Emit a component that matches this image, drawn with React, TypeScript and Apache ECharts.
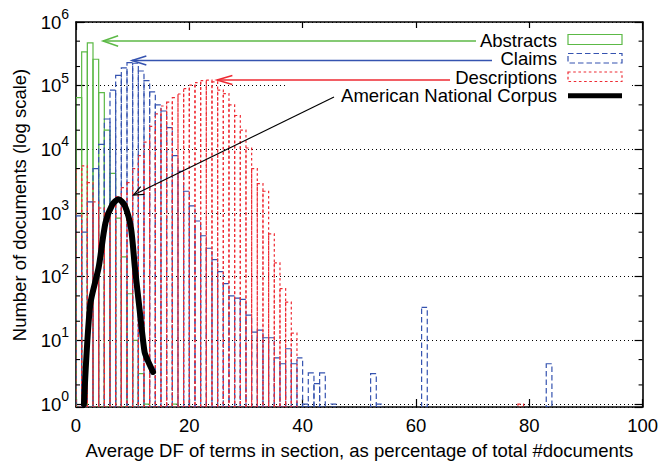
import React, { useEffect, useRef } from 'react';
import * as echarts from 'echarts';

const FONT = '"Liberation Sans", Arial, Helvetica, sans-serif';

// ---- data ----
const X_MIN = 0;
const X_MAX = 100;
const X_INTERVAL = 20;
const Y_MIN = 0.9;
const Y_MAX = 1e6;
const BIN_WIDTH = 1;

// counts per bin, index = bin start (percentage)
const abstractsCounts = [65000, 340000, 470000, 260000, 78000, 20000, 4200, 830, 205, 54, 10, 3, 1, 0, 0, 0, 0, 1];

const claimsCounts = [
  900, 500, 1500, 5000, 12000, 30000, 85000, 145000, 190000, 230000,
  225000, 170000, 120000, 80000, 50000, 40000, 22000, 8000, 4500, 2200,
  1300, 750, 440, 280, 185, 120, 78, 50, 46, 44,
  25, 13.5, 14.5, 11, 11, 5.3, 4.3, 7.4, 4.3, 5.3,
  1, 3.1, 2.1, 3.1, 0, 1,
];
const claimsOutlierBins = [52, 53, 61, 83];
const claimsOutlierCounts = [3, 1, 33, 4.3];

const descriptionsCounts = [
  5000, 5500, 3000, 1500, 1200, 1000, 1300, 1800, 2500, 3000,
  5000, 8000, 13000, 23000, 36000, 48000, 55000, 65000, 74000, 90000,
  102000, 112000, 120000, 122000, 115000, 85000, 75000, 50000, 34000, 20000,
  10500, 5000, 2900, 2200, 470, 165, 65, 40, 13,
];
const descriptionsOutlierBins = [78];
const descriptionsOutlierCounts = [1];

const ancX = [1.4, 2.5, 4.0, 5.2, 6.4, 7.5, 8.6, 9.7, 10.4, 11.25, 12.1, 12.6, 13.6];
const ancY = [1, 36, 140, 700, 1350, 1650, 1320, 580, 138, 29, 6.6, 5, 3.2];

const minorTickValues = [2, 5, 20, 50, 200, 500, 2000, 5000, 20000, 50000, 200000, 500000];

const seriesNames = ['Abstracts', 'Claims', 'Descriptions', 'American National Corpus'];

// ---- styles ----
const GREEN = '#5cb946';
const BLUE = '#3553b0';
const RED = '#ee2a32';
const BLACK = '#000';
const DASH_CLAIMS = [5.5, 3];
const DASH_DESC = [2.6, 2.6];

function binsToData(counts: number[], extraBins: number[] = [], extraCounts: number[] = []) {
  const out: number[][] = [];
  counts.forEach((c, i) => {
    if (c > 0) out.push([i, c]);
  });
  extraBins.forEach((b, i) => out.push([b, extraCounts[i]]));
  return out;
}

function histSeries(name: string, data: number[][], color: string, dash: number[] | null, z: number) {
  return {
    type: 'custom',
    name,
    data,
    clip: true,
    silent: true,
    z,
    encode: { x: 0, y: 1 },
    renderItem: (_p: any, api: any) => {
      const k = api.value(0);
      const v = api.value(1);
      const top = api.coord([k, v]);
      const bot = api.coord([k + BIN_WIDTH, Y_MIN]);
      return {
        type: 'rect',
        shape: { x: top[0], y: top[1], width: bot[0] - top[0], height: bot[1] - top[1] },
        style: { fill: 'none', stroke: color, lineWidth: 1.2, lineDash: dash || undefined },
      };
    },
  };
}

function arrow(x1: number, y1: number, x2: number, y2: number, color: string, lw: number, headLen: number, halfAngle: number) {
  const ang = Math.atan2(y1 - y2, x1 - x2);
  const a1 = ang + halfAngle;
  const a2 = ang - halfAngle;
  return [
    { type: 'line', z: 100, shape: { x1, y1, x2, y2 }, style: { stroke: color, lineWidth: lw } },
    {
      type: 'polyline',
      z: 100,
      shape: {
        points: [
          [x2 + headLen * Math.cos(a1), y2 + headLen * Math.sin(a1)],
          [x2, y2],
          [x2 + headLen * Math.cos(a2), y2 + headLen * Math.sin(a2)],
        ],
      },
      style: { stroke: color, lineWidth: lw, fill: 'none' },
    },
  ];
}

function legendText(text: string, y: number) {
  return {
    type: 'text',
    z: 100,
    style: {
      text,
      x: 557,
      y,
      align: 'right',
      textAlign: 'right',
      verticalAlign: 'middle',
      textVerticalAlign: 'middle',
      font: `18.5px ${FONT}`,
      lineHeight: 16,
      fill: BLACK,
    },
  };
}

const axisLineStyle = { color: BLACK, width: 1.6 };

function supLabel(v: number) {
  const e = Math.round(Math.log10(v));
  if (Math.abs(Math.pow(10, e) - v) > 1e-6 * v) return '';
  return `{b|10}{s|${e}}`;
}

export default function App() {
  const ref = useRef<HTMLDivElement>(null);

  useEffect(() => {
    if (!ref.current) return;
    const chart = echarts.init(ref.current, undefined, { renderer: 'svg' });

    const graphics: any[] = [
      { type: 'rect', z: 1, shape: { x: 288, y: 28, width: 344, height: 76 }, style: { fill: '#fff' } },
      legendText(seriesNames[0], 40),
      legendText(seriesNames[1], 58.5),
      legendText(seriesNames[2], 77),
      legendText(seriesNames[3], 95.5),
      { type: 'rect', z: 100, shape: { x: 568, y: 34.5, width: 54, height: 10 }, style: { fill: 'none', stroke: GREEN, lineWidth: 1.2 } },
      { type: 'rect', z: 100, shape: { x: 568, y: 53.5, width: 54, height: 9.5 }, style: { fill: 'none', stroke: BLUE, lineWidth: 1.2, lineDash: DASH_CLAIMS } },
      { type: 'rect', z: 100, shape: { x: 568, y: 72, width: 54, height: 9.5 }, style: { fill: 'none', stroke: RED, lineWidth: 1.2, lineDash: DASH_DESC } },
      { type: 'line', z: 100, shape: { x1: 568, y1: 95.7, x2: 622, y2: 95.7 }, style: { stroke: BLACK, lineWidth: 5 } },
      ...arrow(476, 41, 103, 41, GREEN, 1.5, 16, 0.33),
      ...arrow(492, 60.5, 132, 60.5, BLUE, 1.5, 15, 0.3),
      ...arrow(450, 80, 217, 80, RED, 1.5, 16, 0.28),
      ...arrow(334, 97, 133.5, 195, BLACK, 1.2, 11, 0.4),
      {
        type: 'text',
        z: 100,
        x: 19,
        y: 205,
        rotation: Math.PI / 2,
        style: {
          text: 'Number of documents (log scale)',
          x: 0,
          y: 0,
          align: 'center',
          textAlign: 'center',
          verticalAlign: 'middle',
          textVerticalAlign: 'middle',
          font: `18.5px ${FONT}`,
          fill: BLACK,
        },
      },
    ];

    const option: any = {
      animation: false,
      backgroundColor: '#fff',
      grid: { left: 76, right: 18, top: 22, bottom: 55, containLabel: false },
      xAxis: [
        {
          type: 'value',
          min: X_MIN,
          max: X_MAX,
          interval: X_INTERVAL,
          position: 'bottom',
          axisLine: { show: true, onZero: false, lineStyle: axisLineStyle },
          axisTick: { show: true, inside: true, length: 8, lineStyle: { color: BLACK, width: 1.2 } },
          axisLabel: { fontSize: 18.5, fontFamily: FONT, color: BLACK, margin: 9 },
          splitLine: { show: false },
          name: 'Average DF of terms in section, as percentage of total #documents',
          nameLocation: 'middle',
          nameGap: 34,
          nameTextStyle: { fontSize: 18.5, fontFamily: FONT, color: BLACK },
        },
        {
          type: 'value',
          min: X_MIN,
          max: X_MAX,
          interval: X_INTERVAL,
          position: 'top',
          axisLine: { show: true, onZero: false, lineStyle: axisLineStyle },
          axisTick: { show: true, inside: true, length: 8, lineStyle: { color: BLACK, width: 1.2 } },
          axisLabel: { show: false },
          splitLine: { show: false },
        },
      ],
      yAxis: [
        {
          type: 'log',
          logBase: 10,
          min: Y_MIN,
          max: Y_MAX,
          splitNumber: 6,
          position: 'left',
          axisLine: { show: true, onZero: false, lineStyle: axisLineStyle },
          axisTick: { show: true, inside: true, length: 8, lineStyle: { color: BLACK, width: 1.2 } },
          axisLabel: {
            margin: 7,
            formatter: supLabel,
            rich: {
              b: { fontSize: 18.5, fontFamily: FONT, color: BLACK, lineHeight: 30 },
              s: { fontSize: 14, fontFamily: FONT, color: BLACK, lineHeight: 14, verticalAlign: 'top' },
            },
          },
          splitLine: { show: true, lineStyle: { color: BLACK, width: 1, type: [1, 3] } },
        },
        {
          type: 'log',
          logBase: 10,
          min: Y_MIN,
          max: Y_MAX,
          splitNumber: 6,
          position: 'right',
          axisLine: { show: true, onZero: false, lineStyle: axisLineStyle },
          axisTick: { show: true, inside: true, length: 8, lineStyle: { color: BLACK, width: 1.2 } },
          axisLabel: { show: false },
          splitLine: { show: false },
        },
      ],
      series: [
        histSeries(seriesNames[0], binsToData(abstractsCounts), GREEN, null, 2),
        histSeries(seriesNames[1], binsToData(claimsCounts, claimsOutlierBins, claimsOutlierCounts), BLUE, DASH_CLAIMS, 3),
        histSeries(seriesNames[2], binsToData(descriptionsCounts, descriptionsOutlierBins, descriptionsOutlierCounts), RED, DASH_DESC, 4),
        {
          type: 'line',
          name: seriesNames[3],
          data: ancX.map((x, i) => [x, ancY[i]]),
          showSymbol: false,
          symbol: 'none',
          smooth: 0.25,
          z: 5,
          silent: true,
          lineStyle: { color: BLACK, width: 6, cap: 'round', join: 'round' },
        },
        {
          type: 'custom',
          name: 'minorTicks',
          data: minorTickValues.map((v) => [X_MIN, v]),
          silent: true,
          z: 6,
          encode: { x: 0, y: 1 },
          renderItem: (_p: any, api: any) => {
            const v = api.value(1);
            const l = api.coord([X_MIN, v]);
            const r = api.coord([X_MAX, v]);
            return {
              type: 'group',
              children: [
                { type: 'line', shape: { x1: l[0], y1: l[1], x2: l[0] + 4, y2: l[1] }, style: { stroke: BLACK, lineWidth: 1.1 } },
                { type: 'line', shape: { x1: r[0] - 4, y1: r[1], x2: r[0], y2: r[1] }, style: { stroke: BLACK, lineWidth: 1.1 } },
              ],
            };
          },
        },
      ],
      graphic: { elements: graphics },
    };

    chart.setOption(option);
    return () => chart.dispose();
  }, []);

  return (
    <div
      ref={ref}
      style={{ position: 'absolute', left: 0, top: 0, width: 661, height: 465, background: '#fff' }}
    />
  );
}
